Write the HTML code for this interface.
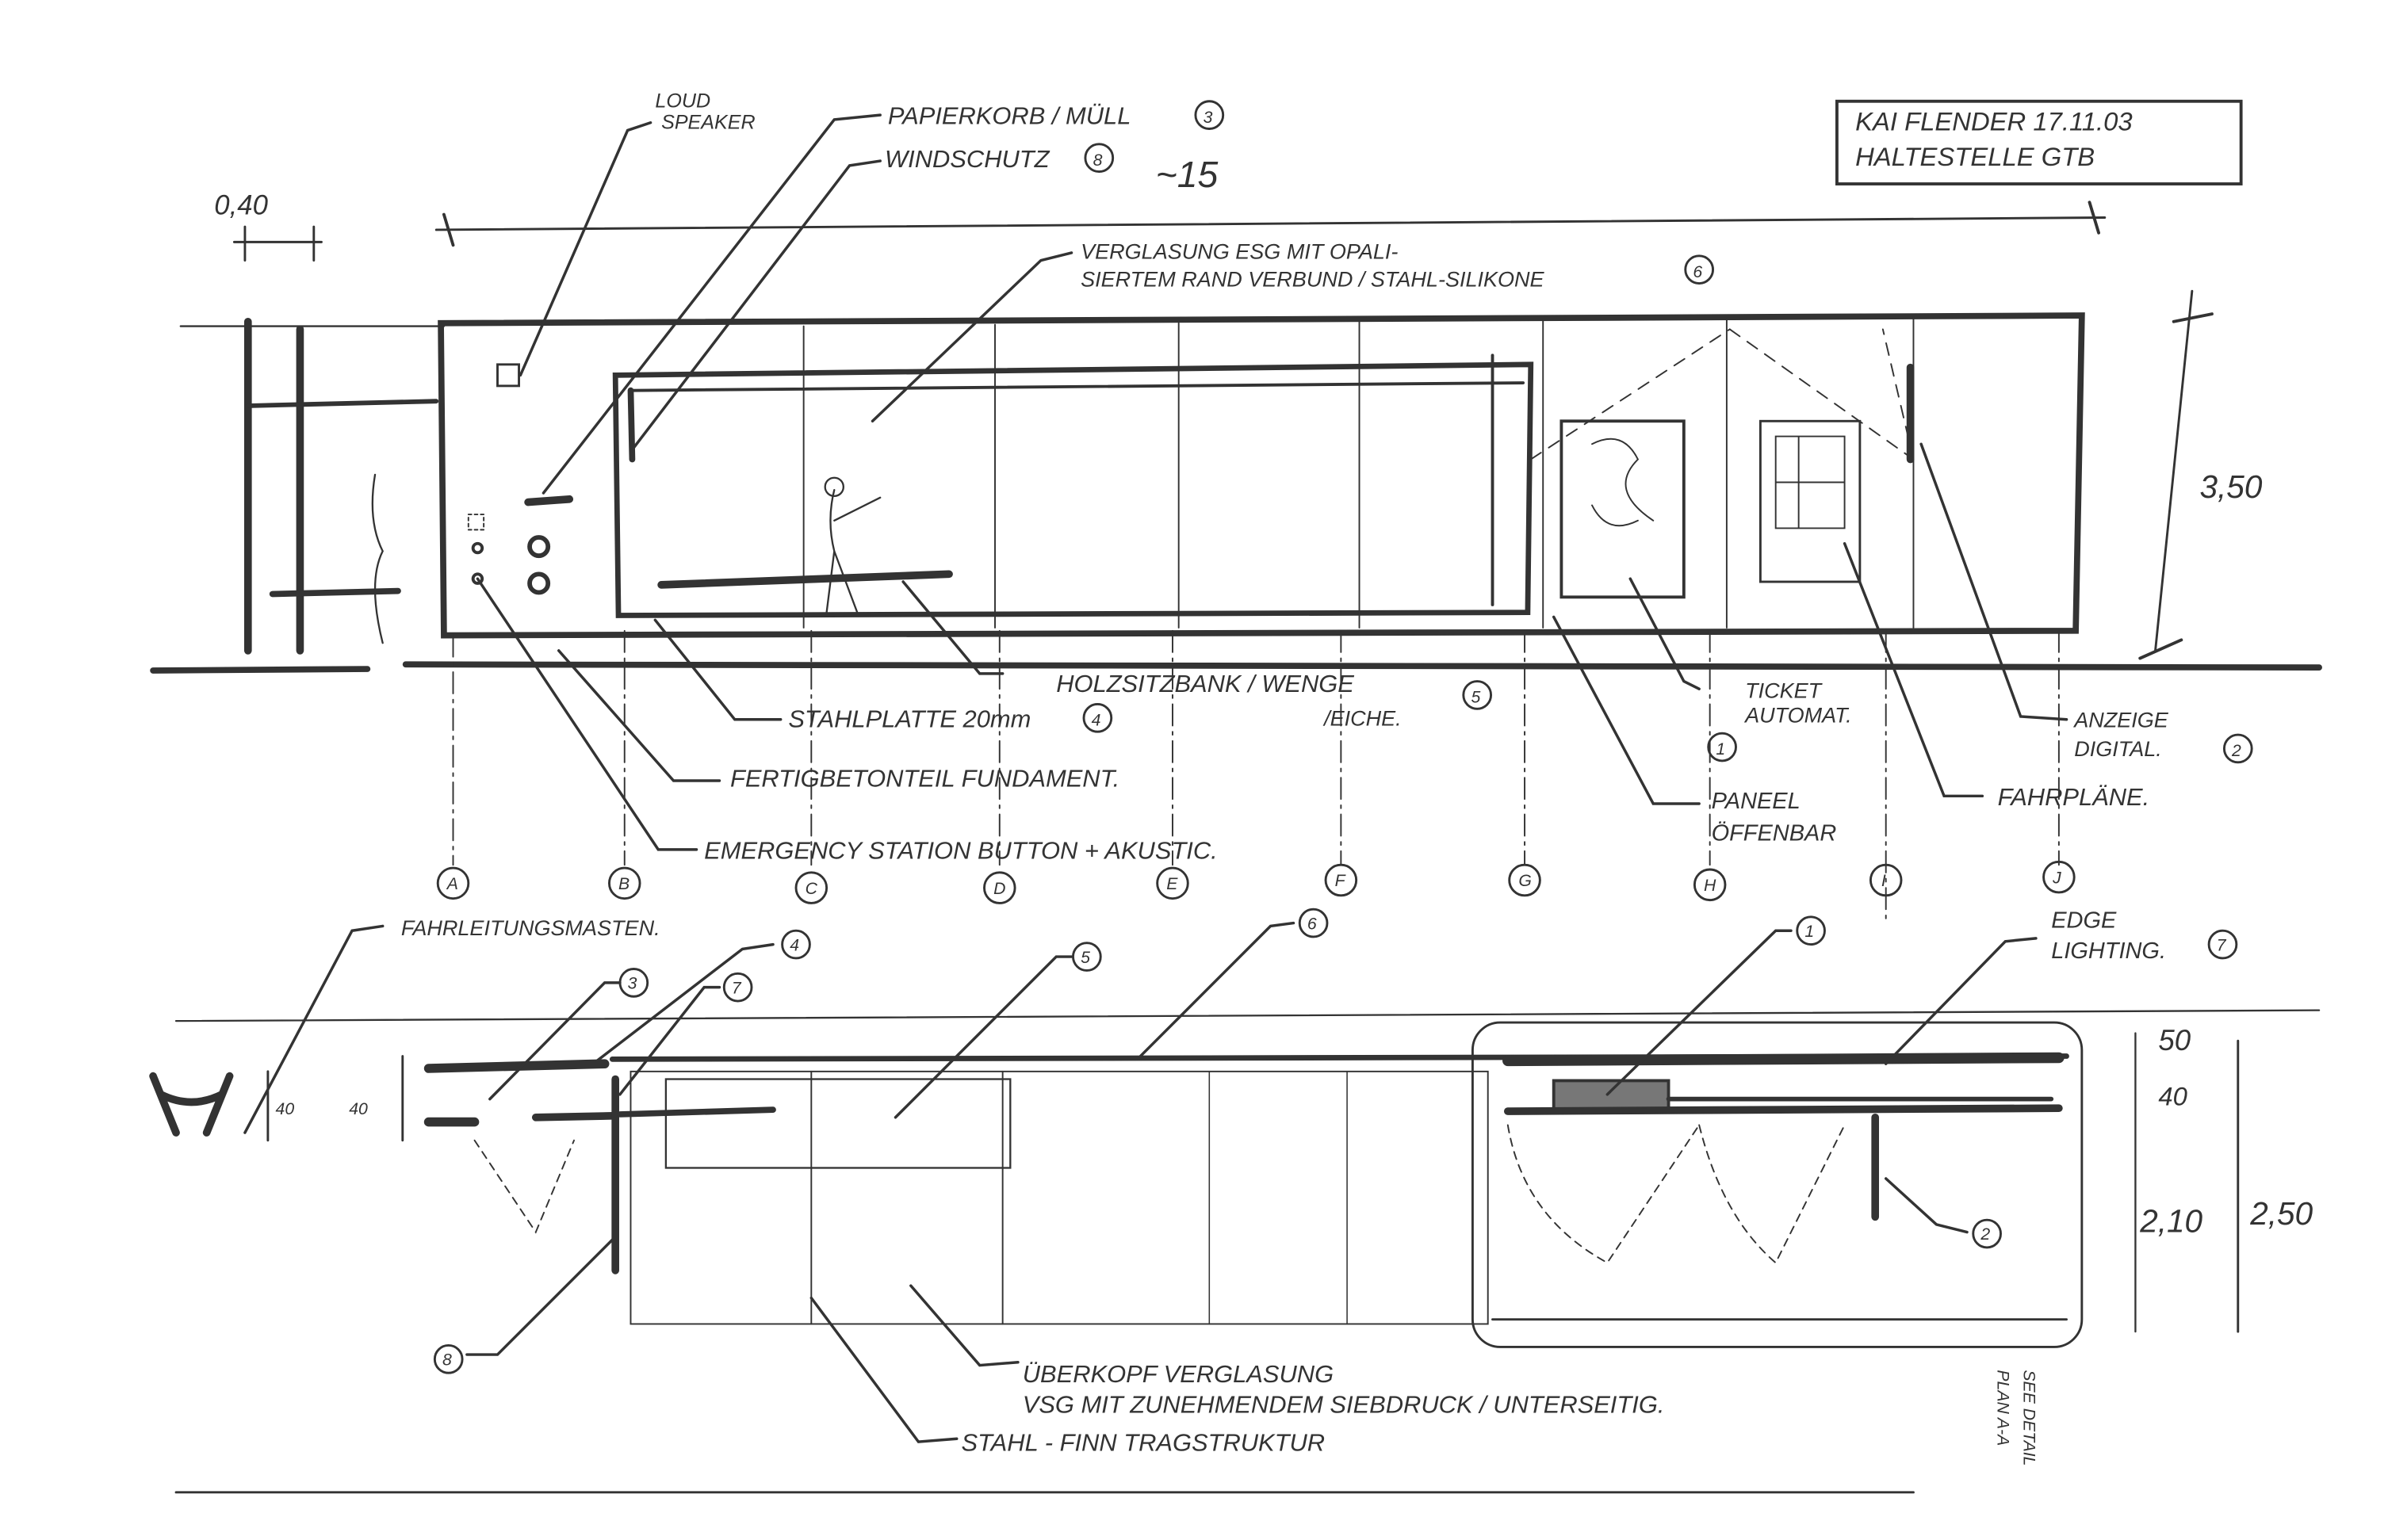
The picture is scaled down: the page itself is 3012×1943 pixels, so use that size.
<!DOCTYPE html>
<html><head><meta charset="utf-8"><style>
html,body{margin:0;padding:0;background:#fff}
svg{display:block}
text{font-family:"Liberation Sans",sans-serif;fill:#333;font-style:italic}
</style></head><body>
<svg width="3012" height="1943" viewBox="0 0 1560 1006" xmlns="http://www.w3.org/2000/svg">
<rect width="1560" height="1006" fill="#fff"/>
<g stroke="#333" fill="none" stroke-linecap="round">
<rect x="1200" y="66" width="264" height="54" stroke-width="2"/>
<line x1="285" y1="150" x2="1375" y2="142" stroke-width="1.5"/>
<line x1="290" y1="140" x2="296" y2="160" stroke-width="2"/>
<line x1="1365" y1="132" x2="1371" y2="152" stroke-width="2"/>
<line x1="153" y1="158" x2="210" y2="158" stroke-width="1.5"/>
<line x1="160" y1="148" x2="160" y2="170" stroke-width="1.5"/>
<line x1="205" y1="148" x2="205" y2="170" stroke-width="1.5"/>
<line x1="118" y1="213" x2="290" y2="213" stroke-width="1.2"/>
<path d="M288 211 L1360 206 L1356 412 L290 415 Z" stroke-width="4"/>
<path d="M402 245 L1000 238 L998 400 L404 402 Z" stroke-width="3.5"/>
<line x1="412" y1="255" x2="995" y2="250" stroke-width="2"/>
<line x1="412" y1="255" x2="413" y2="300" stroke-width="4"/>
<line x1="975" y1="232" x2="975" y2="395" stroke-width="2"/>
<g stroke-width="1">
<line x1="525" y1="213" x2="525" y2="410"/><line x1="650" y1="212" x2="650" y2="410"/>
<line x1="770" y1="211" x2="770" y2="410"/><line x1="888" y1="210" x2="888" y2="410"/>
<line x1="1008" y1="209" x2="1008" y2="410"/><line x1="1128" y1="208" x2="1128" y2="410"/>
<line x1="1250" y1="207" x2="1250" y2="410"/>
</g>
<line x1="1248" y1="240" x2="1248" y2="300" stroke-width="5"/>
<line x1="432" y1="382" x2="620" y2="375" stroke-width="5"/>
<line x1="345" y1="328" x2="372" y2="326" stroke-width="5"/>
<rect x="1020" y="275" width="80" height="115" stroke-width="2"/>
<rect x="1150" y="275" width="65" height="105" stroke-width="1.5"/>
<path d="M1040 290 q20 -10 30 10 q-20 20 10 40 M1040 330 q10 20 30 10" stroke-width="1"/>
<path d="M1160 285 h45 v60 h-45 z M1175 285 v60 M1160 315 h45" stroke-width="1"/>
<line x1="1000" y1="300" x2="1130" y2="215" stroke-width="1" stroke-dasharray="8 6"/>
<line x1="1130" y1="215" x2="1250" y2="300" stroke-width="1" stroke-dasharray="8 6"/>
<line x1="1250" y1="300" x2="1230" y2="215" stroke-width="1" stroke-dasharray="8 6"/>
<path d="M545 320 q-5 20 0 40 l-5 40 M545 340 l30 -15 M545 360 l15 40" stroke-width="1.2"/>
<circle cx="545" cy="318" r="6" stroke-width="1.2"/>
<path d="M245 310 q-5 30 5 50 q-10 20 0 60" stroke-width="1.2"/>
<rect x="325" y="238" width="14" height="14" stroke-width="1.5"/>
<circle cx="352" cy="357" r="6" stroke-width="3"/>
<circle cx="352" cy="381" r="6" stroke-width="3"/>
<circle cx="312" cy="358" r="3" stroke-width="2"/>
<circle cx="312" cy="378" r="3" stroke-width="2"/>
<rect x="306" y="336" width="10" height="10" stroke-width="1" stroke-dasharray="2 2"/>
<line x1="162" y1="210" x2="162" y2="425" stroke-width="5"/>
<line x1="196" y1="215" x2="196" y2="425" stroke-width="5"/>
<line x1="162" y1="265" x2="285" y2="262" stroke-width="3"/>
<line x1="178" y1="388" x2="260" y2="386" stroke-width="4"/>
<path d="M100 438 L240 437 M265 434 L1515 436" stroke-width="4"/>
<line x1="1432" y1="190" x2="1408" y2="425" stroke-width="1.5"/>
<line x1="1420" y1="210" x2="1445" y2="205" stroke-width="2"/>
<line x1="1398" y1="430" x2="1425" y2="418" stroke-width="2"/>
<g stroke-width="1" stroke-dasharray="14 4 2 4">
<line x1="296" y1="415" x2="296" y2="565"/><line x1="408" y1="412" x2="408" y2="565"/>
<line x1="530" y1="412" x2="530" y2="565"/><line x1="653" y1="412" x2="653" y2="565"/>
<line x1="766" y1="412" x2="766" y2="565"/><line x1="876" y1="412" x2="876" y2="565"/>
<line x1="996" y1="412" x2="996" y2="565"/><line x1="1117" y1="412" x2="1117" y2="565"/>
<line x1="1232" y1="412" x2="1232" y2="600"/><line x1="1345" y1="412" x2="1345" y2="565"/>
</g>
<g stroke-width="1.5">
<circle cx="296" cy="577" r="10"/><circle cx="408" cy="577" r="10"/><circle cx="530" cy="580" r="10"/>
<circle cx="653" cy="580" r="10"/><circle cx="766" cy="577" r="10"/><circle cx="876" cy="575" r="10"/>
<circle cx="996" cy="575" r="10"/><circle cx="1117" cy="578" r="10"/><circle cx="1232" cy="575" r="10"/><circle cx="1345" cy="573" r="10"/>
</g>
<g stroke-width="1.8">
<path d="M425 80 L410 85 L340 245"/>
<path d="M575 75 L545 78 L355 322"/>
<path d="M575 105 L555 108 L412 295"/>
<path d="M700 165 L680 170 L570 275"/>
<path d="M655 440 L640 440 L590 380"/>
<path d="M510 470 L480 470 L428 405"/>
<path d="M470 510 L440 510 L365 425"/>
<path d="M455 555 L430 555 L312 378"/>
<path d="M1110 450 L1100 445 L1065 378"/>
<path d="M1110 525 L1080 525 L1015 403"/>
<path d="M1350 470 L1320 468 L1255 290"/>
<path d="M1295 520 L1270 520 L1205 355"/>
</g>
<line x1="115" y1="667" x2="1515" y2="660" stroke-width="1.2"/>
<line x1="115" y1="975" x2="1250" y2="975" stroke-width="1.5"/>
<line x1="400" y1="692" x2="1350" y2="690" stroke-width="3.5"/>
<line x1="280" y1="698" x2="395" y2="695" stroke-width="6"/>
<line x1="280" y1="733" x2="310" y2="733" stroke-width="6"/>
<line x1="350" y1="730" x2="400" y2="729" stroke-width="5"/>
<path d="M100 703 L115 740 M150 703 L135 740 M105 715 q20 10 40 0" stroke-width="5"/>
<line x1="175" y1="700" x2="175" y2="745" stroke-width="1.5"/>
<line x1="263" y1="690" x2="263" y2="745" stroke-width="1.5"/>
<path d="M310 745 L350 805 L375 745" stroke-width="1" stroke-dasharray="5 4"/>
<line x1="402" y1="705" x2="402" y2="830" stroke-width="5"/>
<rect x="412" y="700" width="560" height="165" stroke-width="1"/>
<rect x="435" y="705" width="225" height="58" stroke-width="1.2"/>
<line x1="530" y1="700" x2="530" y2="865" stroke-width="1"/>
<line x1="655" y1="700" x2="655" y2="865" stroke-width="1"/>
<line x1="790" y1="700" x2="790" y2="865" stroke-width="0.8"/>
<line x1="880" y1="700" x2="880" y2="865" stroke-width="0.8"/>
<line x1="405" y1="728" x2="505" y2="725" stroke-width="4"/>
<rect x="962" y="668" width="398" height="212" rx="18" stroke-width="1.5"/>
<line x1="985" y1="693" x2="1345" y2="691" stroke-width="7"/>
<rect x="1015" y="706" width="75" height="20" fill="#777" stroke-width="2"/>
<line x1="1090" y1="718" x2="1340" y2="718" stroke-width="3"/>
<line x1="985" y1="726" x2="1345" y2="724" stroke-width="5"/>
<line x1="1225" y1="730" x2="1225" y2="795" stroke-width="5"/>
<path d="M985 735 q10 60 65 90 L1110 735 M1110 735 q15 60 50 90 L1205 735" stroke-width="1" stroke-dasharray="5 4"/>
<line x1="975" y1="862" x2="1350" y2="862" stroke-width="1.5"/>
<line x1="1395" y1="675" x2="1395" y2="870" stroke-width="1.2"/>
<line x1="1462" y1="680" x2="1462" y2="870" stroke-width="1.5"/>
<g stroke-width="1.8">
<path d="M250 605 L230 608 L160 740"/>
<path d="M405 642 L395 642 L320 718"/>
<path d="M505 617 L485 620 L390 693"/>
<path d="M470 645 L460 645 L405 715"/>
<path d="M700 625 L690 625 L585 730"/>
<path d="M845 603 L830 605 L745 690"/>
<path d="M1170 608 L1160 608 L1050 715"/>
<path d="M1330 613 L1310 615 L1232 695"/>
<path d="M1285 805 L1265 800 L1232 770"/>
<path d="M305 885 L325 885 L400 810"/>
<path d="M665 890 L640 892 L595 840"/>
<path d="M625 940 L600 942 L530 848"/>
</g>
<g stroke-width="1.5">
<circle cx="414" cy="642" r="9"/><circle cx="520" cy="617" r="9"/><circle cx="482" cy="645" r="9"/>
<circle cx="710" cy="625" r="9"/><circle cx="858" cy="603" r="9"/><circle cx="1183" cy="608" r="9"/>
<circle cx="1298" cy="806" r="9"/><circle cx="293" cy="888" r="9"/>
<circle cx="790" cy="75" r="9"/><circle cx="718" cy="103" r="9"/><circle cx="1110" cy="176" r="9"/>
<circle cx="965" cy="454" r="9"/><circle cx="717" cy="469" r="9"/><circle cx="1125" cy="488" r="9"/>
<circle cx="1462" cy="489" r="9"/><circle cx="1452" cy="617" r="9"/>
</g>
</g>
<g font-size="15">
<text x="1212" y="85" font-size="17">KAI FLENDER 17.11.03</text>
<text x="1212" y="108" font-size="17">HALTESTELLE GTB</text>
<text x="428" y="70" font-size="13">LOUD</text><text x="432" y="84" font-size="13">SPEAKER</text>
<text x="580" y="81" font-size="16">PAPIERKORB / MÜLL</text><text x="786" y="80" font-size="11">3</text>
<text x="578" y="109" font-size="16">WINDSCHUTZ</text><text x="714" y="108" font-size="11">8</text>
<text x="755" y="122" font-size="24">~15</text>
<text x="140" y="140" font-size="18">0,40</text>
<text x="706" y="169" font-size="14">VERGLASUNG ESG MIT OPALI-</text>
<text x="706" y="187" font-size="14">SIERTEM RAND VERBUND / STAHL-SILIKONE</text><text x="1106" y="181" font-size="11">6</text>
<text x="1437" y="325" font-size="21">3,50</text>
<text x="690" y="452" font-size="16">HOLZSITZBANK / WENGE</text><text x="961" y="459" font-size="11">5</text>
<text x="865" y="474" font-size="14">/EICHE.</text>
<text x="515" y="475" font-size="16">STAHLPLATTE 20mm</text><text x="713" y="474" font-size="11">4</text>
<text x="477" y="514" font-size="16">FERTIGBETONTEIL FUNDAMENT.</text>
<text x="460" y="561" font-size="16">EMERGENCY STATION BUTTON + AKUSTIC.</text>
<text x="1140" y="456" font-size="14">TICKET</text><text x="1140" y="472" font-size="14">AUTOMAT.</text><text x="1121" y="493" font-size="11">1</text>
<text x="1118" y="528" font-size="15">PANEEL</text><text x="1118" y="549" font-size="15">ÖFFENBAR</text>
<text x="1355" y="475" font-size="14">ANZEIGE</text><text x="1355" y="494" font-size="14">DIGITAL.</text><text x="1458" y="494" font-size="11">2</text>
<text x="1305" y="526" font-size="16">FAHRPLÄNE.</text>
<g font-size="11" font-style="normal">
<text x="292" y="581">A</text><text x="404" y="581">B</text><text x="526" y="584">C</text><text x="649" y="584">D</text><text x="762" y="581">E</text><text x="872" y="579">F</text><text x="992" y="579">G</text><text x="1113" y="582">H</text><text x="1229" y="579">I</text><text x="1341" y="577">J</text>
<text x="410" y="646">3</text><text x="516" y="621">4</text><text x="478" y="649">7</text><text x="706" y="629">5</text><text x="854" y="607">6</text><text x="1179" y="612">1</text><text x="1294" y="810">2</text><text x="289" y="892">8</text><text x="1448" y="621">7</text>
</g>
<text x="262" y="611" font-size="14">FAHRLEITUNGSMASTEN.</text>
<text x="1340" y="606" font-size="15">EDGE</text><text x="1340" y="626" font-size="15">LIGHTING.</text>
<text x="180" y="728" font-size="11">40</text><text x="228" y="728" font-size="11">40</text>
<text x="1410" y="686" font-size="19">50</text><text x="1410" y="722" font-size="17">40</text>
<text x="1398" y="805" font-size="21">2,10</text><text x="1470" y="800" font-size="21">2,50</text>
<text x="668" y="903" font-size="16">ÜBERKOPF VERGLASUNG</text>
<text x="668" y="923" font-size="16">VSG MIT ZUNEHMENDEM SIEBDRUCK / UNTERSEITIG.</text>
<text x="628" y="948" font-size="16">STAHL - FINN TRAGSTRUKTUR</text>
<text transform="translate(1322,895) rotate(90)" font-size="11">SEE DETAIL</text>
<text transform="translate(1305,895) rotate(90)" font-size="11">PLAN A-A</text>
</g>
</svg>
</body></html>
